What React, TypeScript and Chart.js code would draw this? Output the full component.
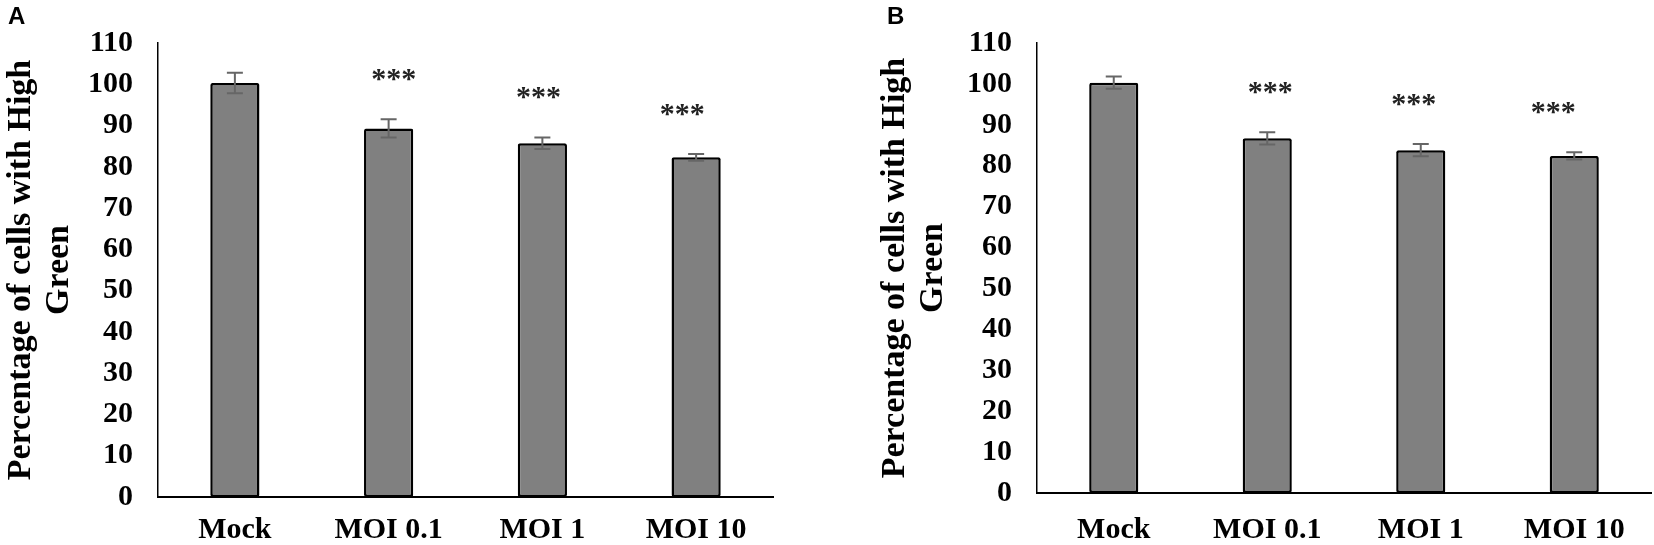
import { useEffect, useRef } from "react";
import { Chart, registerables } from "chart.js";

Chart.register(...registerables);

// data
const categories = ["Mock", "MOI 0.1", "MOI 1", "MOI 10"];
const yMin = 0;
const yMax = 110;
const yStep = 10;
const axisTitle = ["Percentage of cells with High", "Green"];

const meansA = [100.3, 89.3, 85.7, 82.3];
const errorsA = [2.5, 2.2, 1.4, 0.8];
const marksA = ["", "***", "***", "***"];

const meansB = [100.3, 86.7, 83.8, 82.4];
const errorsB = [1.5, 1.5, 1.5, 0.9];
const marksB = ["", "***", "***", "***"];

const SERIF = "'Liberation Serif', 'Times New Roman', serif";

interface PanelProps {
  letter: string;
  means: number[];
  errors: number[];
  marks: string[];
  markNudge: number[];
  left: number;
  width: number;
  area: { left: number; right: number; top: number; bottom: number };
  padLeft: number;
  labelPad: number;
  letterX: number;
}

const HEIGHT = 545;

function BarPanel({
  letter,
  means,
  errors,
  marks,
  markNudge,
  left,
  width,
  area,
  padLeft,
  labelPad,
  letterX,
}: PanelProps) {
  const canvasRef = useRef<HTMLCanvasElement | null>(null);
  const chartRef = useRef<Chart | null>(null);

  useEffect(() => {
    if (!canvasRef.current) return;
    if (chartRef.current) chartRef.current.destroy();

    // error bars and significance stars
    const errorBars = {
      id: "errorBars",
      afterDatasetsDraw(chart: any) {
        const { ctx } = chart;
        const y = chart.scales.y;
        const meta = chart.getDatasetMeta(0);
        ctx.save();
        meta.data.forEach((bar: any, i: number) => {
          const top = y.getPixelForValue(means[i] + errors[i]);
          const bot = y.getPixelForValue(means[i] - errors[i]);
          ctx.strokeStyle = "#666666";
          ctx.lineWidth = 2;
          ctx.beginPath();
          ctx.moveTo(bar.x, top);
          ctx.lineTo(bar.x, bot);
          ctx.moveTo(bar.x - 8, top);
          ctx.lineTo(bar.x + 8, top);
          ctx.moveTo(bar.x - 8, bot);
          ctx.lineTo(bar.x + 8, bot);
          ctx.stroke();
          if (marks[i]) {
            ctx.fillStyle = "#222222";
            ctx.font = `bold 30px ${SERIF}`;
            ctx.textAlign = "center";
            ctx.textBaseline = "middle";
            ctx.fillText(marks[i], bar.x + markNudge[i], top - 39);
          }
        });
        ctx.restore();
      },
    };

    chartRef.current = new Chart(canvasRef.current, {
      type: "bar",
      data: {
        labels: categories,
        datasets: [
          {
            data: means,
            backgroundColor: "#808080",
            borderColor: "#000000",
            borderWidth: 2.5,
            borderSkipped: false,
            borderRadius: 2,
            barPercentage: 0.32,
            categoryPercentage: 1,
          },
        ],
      },
      options: {
        responsive: false,
        animation: false,
        layout: {
          padding: {
            left: padLeft,
            top: area.top,
            right: width - area.right,
            bottom: 0,
          },
        },
        plugins: {
          legend: { display: false },
          tooltip: { enabled: false },
        },
        scales: {
          x: {
            grid: { display: false, drawTicks: false },
            border: { display: true, color: "#000000", width: 2 },
            ticks: {
              color: "#000000",
              font: { family: SERIF, size: 30, weight: "bold" },
              padding: labelPad,
              maxRotation: 0,
              autoSkip: false,
            },
            afterFit: (scale: any) => {
              scale.height = HEIGHT - area.bottom;
            },
          },
          y: {
            min: yMin,
            max: yMax,
            grid: { display: false, drawTicks: false },
            border: { display: true, color: "#000000", width: 1.5 },
            ticks: {
              stepSize: yStep,
              color: "#000000",
              font: { family: SERIF, size: 30, weight: "bold" },
              padding: 25,
            },
            title: {
              display: true,
              text: axisTitle,
              color: "#000000",
              font: { family: SERIF, size: 34, weight: "bold", lineHeight: 1.1 },
              padding: { top: 1, bottom: 0 },
            },
            afterFit: (scale: any) => {
              scale.width = area.left - padLeft;
            },
          },
        },
      },
      plugins: [errorBars],
    });

    return () => {
      if (chartRef.current) {
        chartRef.current.destroy();
        chartRef.current = null;
      }
    };
  }, [means, errors, marks]);

  return (
    <div style={{ position: "absolute", left, top: 0, width, height: HEIGHT }}>
      <canvas ref={canvasRef} width={width} height={HEIGHT} style={{ display: "block" }} />
      <div
        style={{
          position: "absolute",
          left: letterX,
          top: 2,
          fontFamily: "'Liberation Sans', Arial, sans-serif",
          fontWeight: "bold",
          fontSize: 24,
          lineHeight: "28px",
          color: "#000",
        }}
      >
        {letter}
      </div>
    </div>
  );
}

export default function App() {
  return (
    <div
      style={{
        position: "absolute",
        left: 0,
        top: 0,
        width: 1654,
        height: HEIGHT,
        background: "#ffffff",
        overflow: "hidden",
      }}
    >
      <BarPanel
        letter="A"
        means={meansA}
        errors={errorsA}
        marks={marksA}
        markNudge={[0, 5, -4, -14]}
        left={0}
        width={800}
        area={{ left: 158, right: 773, top: 42, bottom: 497 }}
        padLeft={2}
        labelPad={15}
        letterX={8}
      />
      <BarPanel
        letter="B"
        means={meansB}
        errors={errorsB}
        marks={marksB}
        markNudge={[0, 3, -7, -21]}
        left={810}
        width={844}
        area={{ left: 227, right: 841, top: 41, bottom: 493 }}
        padLeft={66}
        labelPad={19}
        letterX={77}
      />
    </div>
  );
}
